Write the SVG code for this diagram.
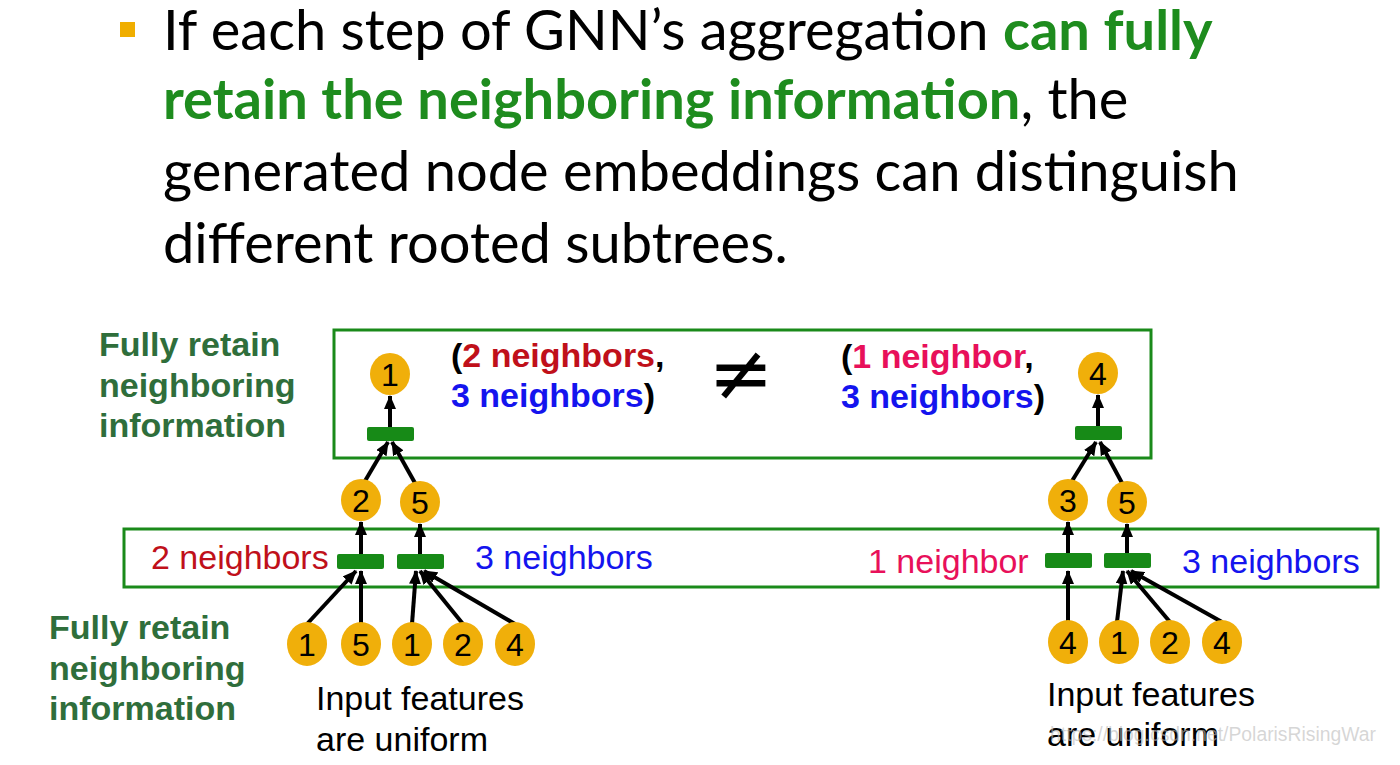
<svg xmlns="http://www.w3.org/2000/svg" width="1400" height="765" viewBox="0 0 1400 765">
<defs>
<style>
.t{font-family:Lato,"Open Sans",sans-serif;font-size:56px;fill:#000}
.tg{font-weight:bold;fill:#1e8c1e}
.lab{font-family:"Liberation Sans",Arial,sans-serif;font-size:34px;font-weight:bold;fill:#2f6e3b}
.box{fill:none;stroke:#1a8a1a;stroke-width:3}
.agg{fill:#178a17}
.nd{fill:#f0af0a}
.nt{font-family:"Liberation Sans",Arial,sans-serif;font-size:32px;fill:#000;text-anchor:middle}
.ar{font-family:"Liberation Sans",Arial,sans-serif;font-size:34px}
.b{font-weight:bold}
.red{fill:#c0101a}
.blue{fill:#1414ee}
.pink{fill:#e8105a}
.blk{fill:#000}
.edge{stroke:#000;stroke-width:4;fill:none;marker-end:url(#ah)}
</style>
<marker id="ah" markerUnits="userSpaceOnUse" markerWidth="14" markerHeight="12" refX="13" refY="6" orient="auto">
<path d="M0,0 L14,6 L0,12 z" fill="#000"/>
</marker>
</defs>
<rect width="1400" height="765" fill="#fff"/>
<g id="title">
<rect x="120" y="22" width="15" height="15" fill="#f0ae00"/>
<text class="t" x="163" y="50">If each step of GNN’s aggregation <tspan class="tg">can fully</tspan></text>
<text class="t" x="163" y="119"><tspan class="tg">retain the neighboring information</tspan>, the</text>
<text class="t" x="163" y="191">generated node embeddings can distinguish</text>
<text class="t" x="163" y="263">different rooted subtrees.</text>
</g>
<g id="labels">
<text class="lab" x="99" y="356">Fully retain</text>
<text class="lab" x="99" y="397">neighboring</text>
<text class="lab" x="99" y="437">information</text>
<text class="lab" x="49" y="639">Fully retain</text>
<text class="lab" x="49" y="680">neighboring</text>
<text class="lab" x="49" y="720">information</text>
</g>
<g id="boxes">
<rect class="box" x="334" y="330" width="817" height="128"/>
<rect class="box" x="124" y="529" width="1254" height="58"/>
</g>
<g id="compare">
<text class="ar b" x="451" y="367"><tspan class="blk">(</tspan><tspan class="red">2 neighbors</tspan><tspan class="blk">,</tspan></text>
<text class="ar b" x="451" y="407"><tspan class="blue">3 neighbors</tspan><tspan class="blk">)</tspan></text>
<text x="741" y="400" font-family="'DejaVu Sans',sans-serif" font-size="78" text-anchor="middle" fill="#000">≠</text>
<text class="ar b" x="841" y="368"><tspan class="blk">(</tspan><tspan class="pink">1 neighbor</tspan><tspan class="blk">,</tspan></text>
<text class="ar b" x="841" y="408"><tspan class="blue">3 neighbors</tspan><tspan class="blk">)</tspan></text>
</g>
<g id="mid-labels">
<text class="ar red" x="151" y="569">2 neighbors</text>
<text class="ar blue" x="475" y="569">3 neighbors</text>
<text class="ar pink" x="868" y="573">1 neighbor</text>
<text class="ar blue" x="1182" y="573">3 neighbors</text>
</g>
<g id="connectors">
<line class="edge" x1="390" y1="429" x2="390" y2="396"/>
<line class="edge" x1="365" y1="481" x2="388" y2="442"/>
<line class="edge" x1="415" y1="483" x2="392" y2="442"/>
<line class="edge" x1="361" y1="557" x2="361" y2="522"/>
<line class="edge" x1="420" y1="557" x2="420" y2="524"/>
<line class="edge" x1="307" y1="624" x2="356" y2="571"/>
<line class="edge" x1="361" y1="624" x2="361" y2="571"/>
<line class="edge" x1="412" y1="624" x2="416" y2="571"/>
<line class="edge" x1="463" y1="624" x2="420" y2="571"/>
<line class="edge" x1="515" y1="624" x2="424" y2="571"/>
<line class="edge" x1="1098" y1="429" x2="1098" y2="395"/>
<line class="edge" x1="1072" y1="481" x2="1096" y2="442"/>
<line class="edge" x1="1122" y1="483" x2="1100" y2="442"/>
<line class="edge" x1="1068" y1="557" x2="1068" y2="522"/>
<line class="edge" x1="1127" y1="557" x2="1127" y2="524"/>
<line class="edge" x1="1068" y1="622" x2="1068" y2="571"/>
<line class="edge" x1="1117" y1="622" x2="1123" y2="571"/>
<line class="edge" x1="1170" y1="622" x2="1127" y2="571"/>
<line class="edge" x1="1222" y1="622" x2="1131" y2="571"/>
</g>
<g id="aggregators">
<rect class="agg" x="367" y="427" width="47" height="14" rx="2"/>
<rect class="agg" x="337" y="554" width="47" height="15" rx="2"/>
<rect class="agg" x="397" y="554" width="47" height="15" rx="2"/>
<rect class="agg" x="1075" y="426" width="47" height="14" rx="2"/>
<rect class="agg" x="1045" y="553" width="47" height="15" rx="2"/>
<rect class="agg" x="1104" y="553" width="47" height="15" rx="2"/>
</g>
<g id="n-top1"><ellipse class="nd" cx="390" cy="374" rx="20" ry="21"/><text class="nt" x="390" y="386">1</text></g>
<g id="n-top4"><ellipse class="nd" cx="1098" cy="373" rx="20" ry="21"/><text class="nt" x="1098" y="385">4</text></g>
<g id="n-l2"><ellipse class="nd" cx="361" cy="500" rx="20" ry="21"/><text class="nt" x="361" y="512">2</text></g>
<g id="n-l5"><ellipse class="nd" cx="420" cy="502" rx="20" ry="21"/><text class="nt" x="420" y="514">5</text></g>
<g id="n-r3"><ellipse class="nd" cx="1068" cy="500" rx="20" ry="21"/><text class="nt" x="1068" y="512">3</text></g>
<g id="n-r5"><ellipse class="nd" cx="1127" cy="502" rx="20" ry="21"/><text class="nt" x="1127" y="514">5</text></g>
<g id="n-lb1"><ellipse class="nd" cx="307" cy="644" rx="20" ry="22"/><text class="nt" x="307" y="656">1</text></g>
<g id="n-lb5"><ellipse class="nd" cx="361" cy="644" rx="20" ry="22"/><text class="nt" x="361" y="656">5</text></g>
<g id="n-lb1b"><ellipse class="nd" cx="412" cy="644" rx="20" ry="22"/><text class="nt" x="412" y="656">1</text></g>
<g id="n-lb2"><ellipse class="nd" cx="463" cy="644" rx="20" ry="22"/><text class="nt" x="463" y="656">2</text></g>
<g id="n-lb4"><ellipse class="nd" cx="515" cy="644" rx="20" ry="22"/><text class="nt" x="515" y="656">4</text></g>
<g id="n-rb4"><ellipse class="nd" cx="1068" cy="642" rx="20" ry="22"/><text class="nt" x="1068" y="654">4</text></g>
<g id="n-rb1"><ellipse class="nd" cx="1119" cy="642" rx="20" ry="22"/><text class="nt" x="1119" y="654">1</text></g>
<g id="n-rb2"><ellipse class="nd" cx="1170" cy="642" rx="20" ry="22"/><text class="nt" x="1170" y="654">2</text></g>
<g id="n-rb4b"><ellipse class="nd" cx="1222" cy="642" rx="20" ry="22"/><text class="nt" x="1222" y="654">4</text></g>
<g id="captions">
<text class="ar blk" x="316" y="710">Input features</text>
<text class="ar blk" x="316" y="751">are uniform</text>
<text class="ar blk" x="1047" y="706">Input features</text>
<text class="ar blk" x="1047" y="746">are uniform</text>
<text x="1050" y="741" font-family="'Liberation Sans',Arial,sans-serif" font-size="20" fill="#bbbbbb" fill-opacity="0.6" textLength="326" lengthAdjust="spacingAndGlyphs">https://blog.csdn.net/PolarisRisingWar</text>
</g>
</svg>
